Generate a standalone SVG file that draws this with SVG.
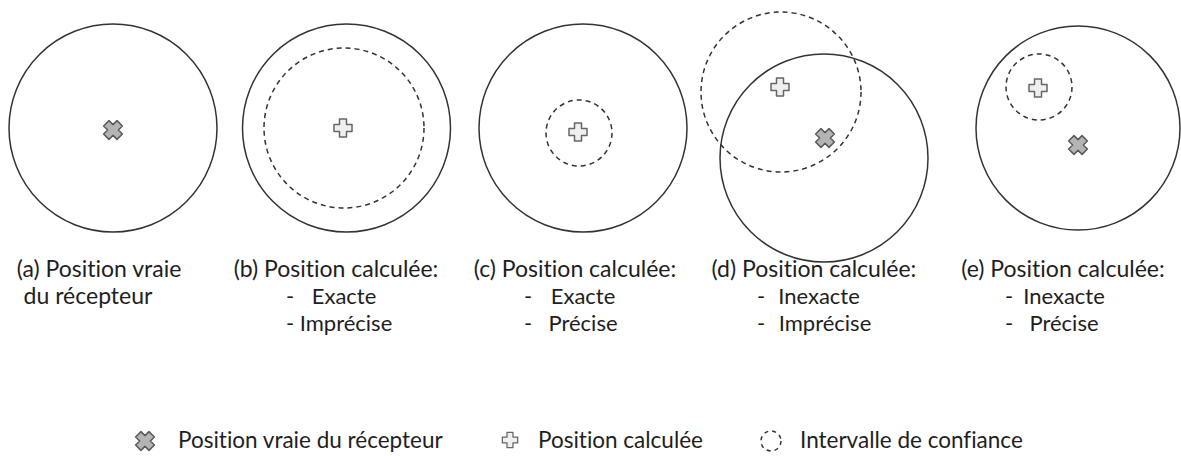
<svg xmlns="http://www.w3.org/2000/svg" width="1181" height="456" viewBox="0 0 1181 456">
<style>
.solid{fill:none;stroke:#333;stroke-width:1.5}
.dash{fill:none;stroke:#333;stroke-width:1.5;stroke-dasharray:5 4}
.t{font-family:Lato,"Open Sans",sans-serif;font-size:22.5px;fill:#1e1e1e;font-variant-ligatures:none}
.h{font-size:23px}
.s{font-size:22px}
.m{text-anchor:middle}
.plus{fill:#efefef;stroke:#666;stroke-width:1.5;stroke-linejoin:round}
.cross{fill:#b4b4b4;stroke:#5a5a5a;stroke-width:1.5;stroke-linejoin:round}
</style>
<defs>
<path id="plusShape" class="plus" d="M-3.5,-9H3.5V-3.5H9V3.5H3.5V9H-3.5V3.5H-9V-3.5H-3.5Z"/>
<path id="crossShape" class="cross" transform="rotate(45)" d="M-3.8,-9.5H3.8V-3.8H9.5V3.8H3.8V9.5H-3.8V3.8H-9.5V-3.8H-3.8Z"/>
</defs>
<g id="a">
<circle class="solid" cx="113" cy="128" r="104"/>
<use href="#crossShape" x="113" y="130"/>
<text class="t h m" x="99" y="277">(a) Position vraie</text>
<text class="t h m" x="88" y="304">du récepteur</text>
</g>
<g id="b">
<circle class="solid" cx="346.5" cy="128" r="104"/>
<circle class="dash" cx="344" cy="128" r="80"/>
<use href="#plusShape" x="343" y="128"/>
<text class="t h m" x="336" y="277">(b) Position calculée:</text>
<text class="t s" x="286" y="304">-</text><text class="t s m" x="344" y="304">Exacte</text>
<text class="t s" x="286" y="331">-</text><text class="t s m" x="346" y="331">Imprécise</text>
</g>
<g id="c">
<circle class="solid" cx="583" cy="128" r="104"/>
<circle class="dash" cx="579" cy="133" r="33"/>
<use href="#plusShape" x="578" y="132"/>
<text class="t h m" x="575" y="277">(c) Position calculée:</text>
<text class="t s" x="524" y="304">-</text><text class="t s m" x="583" y="304">Exacte</text>
<text class="t s" x="524" y="331">-</text><text class="t s m" x="583" y="331">Précise</text>
</g>
<g id="d">
<circle class="solid" cx="824" cy="158" r="104"/>
<circle class="dash" cx="781" cy="92" r="80"/>
<use href="#plusShape" x="780" y="87"/>
<use href="#crossShape" x="825" y="138"/>
<text class="t h m" x="814" y="277">(d) Position calculée:</text>
<text class="t s" x="757" y="304">-</text><text class="t s m" x="819" y="304">Inexacte</text>
<text class="t s" x="757" y="331">-</text><text class="t s m" x="825" y="331">Imprécise</text>
</g>
<g id="e">
<circle class="solid" cx="1078" cy="128" r="102"/>
<circle class="dash" cx="1039" cy="87" r="33"/>
<use href="#plusShape" x="1038" y="88"/>
<use href="#crossShape" x="1078" y="145"/>
<text class="t h m" x="1063" y="277">(e) Position calculée:</text>
<text class="t s" x="1005" y="304">-</text><text class="t s m" x="1064" y="304">Inexacte</text>
<text class="t s" x="1005" y="331">-</text><text class="t s m" x="1064" y="331">Précise</text>
</g>
<g id="legend">
<use href="#crossShape" x="145" y="441"/>
<text class="t" x="178" y="448">Position vraie du récepteur</text>
<use href="#plusShape" transform="translate(510 440) scale(0.85)"/>
<text class="t" x="538" y="448">Position calculée</text>
<circle class="dash" cx="771" cy="441" r="10" style="stroke-dasharray:4 4"/>
<text class="t" x="800" y="448">Intervalle de confiance</text>
</g>
<g id="connectors"/>
</svg>
